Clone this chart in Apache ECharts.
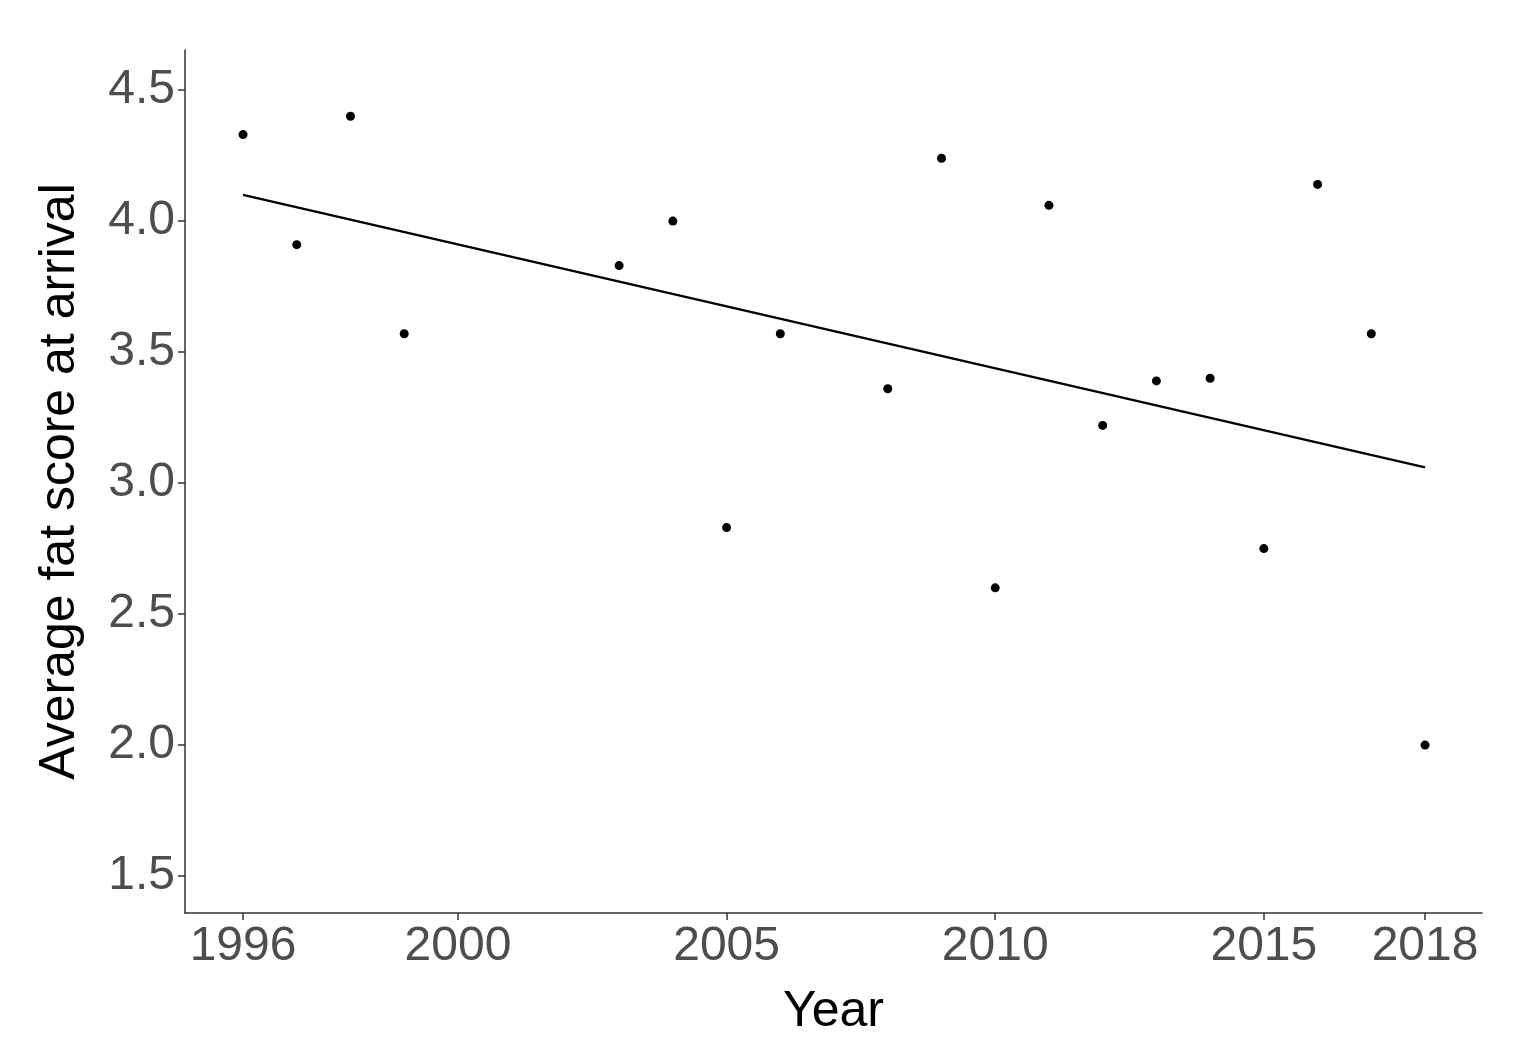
<!DOCTYPE html>
<html>
<head>
<meta charset="utf-8">
<script src="https://cdn.jsdelivr.net/npm/echarts@6/dist/echarts.min.js"></script>
<style>html,body{margin:0;padding:0;background:#fff}#main{width:1536px;height:1062px}</style>
</head>
<body>
<div id="main"></div>
<script>
var years = [1996, 1997, 1998, 1999, 2003, 2004, 2005, 2006, 2008, 2009, 2010, 2011, 2012, 2013, 2014, 2015, 2016, 2017, 2018];
var fatScore = [4.33, 3.91, 4.40, 3.57, 3.83, 4.00, 2.83, 3.57, 3.36, 4.24, 2.60, 4.06, 3.22, 3.39, 3.40, 2.75, 4.14, 3.57, 2.00];
var trendYears = [1996, 2018];
var trendValues = [4.10, 3.06];
var xTicks = [1996, 2000, 2005, 2010, 2015, 2018];
var yTicks = [1.5, 2.0, 2.5, 3.0, 3.5, 4.0, 4.5];

var chart = echarts.init(document.getElementById('main'));
var labelStyle = {color: '#4d4d4d', fontSize: 48, fontFamily: 'Liberation Sans, Arial'};
var option = {
    animation: false,
    grid: {left: 185, right: 54, top: 50, bottom: 149},
    xAxis: {
        type: 'value', min: 1994.92, max: 2019.06,
        name: 'Year', nameLocation: 'middle', nameGap: 74,
        nameTextStyle: {color: '#000', fontSize: 50, fontFamily: 'Liberation Sans, Arial'},
        axisLine: {lineStyle: {color: '#333', width: 1.5}},
        axisTick: {show: true, length: 7, lineStyle: {color: '#333', width: 1.5}, customValues: xTicks},
        axisLabel: Object.assign({margin: 10, customValues: xTicks, formatter: function (v) { return String(v); }}, labelStyle),
        splitLine: {show: false}
    },
    yAxis: {
        type: 'value', min: 1.359, max: 4.653,
        name: 'Average fat score at arrival', nameLocation: 'middle', nameGap: 100,
        nameTextStyle: {color: '#000', fontSize: 50, fontFamily: 'Liberation Sans, Arial'},
        axisLine: {show: true, lineStyle: {color: '#333', width: 1.5}},
        axisTick: {show: true, length: 7, lineStyle: {color: '#333', width: 1.5}, customValues: yTicks},
        axisLabel: Object.assign({margin: 10, customValues: yTicks, formatter: function (v) { return v.toFixed(1); }}, labelStyle),
        splitLine: {show: false}
    },
    series: [
        {
            type: 'scatter', symbolSize: 9, itemStyle: {color: '#000', opacity: 1},
            data: years.map(function (y, i) { return [y, fatScore[i]]; })
        },
        {
            type: 'line', showSymbol: false, lineStyle: {color: '#000', width: 2.5},
            data: trendYears.map(function (y, i) { return [y, trendValues[i]]; })
        }
    ]
};
chart.setOption(option);
</script>
</body>
</html>
